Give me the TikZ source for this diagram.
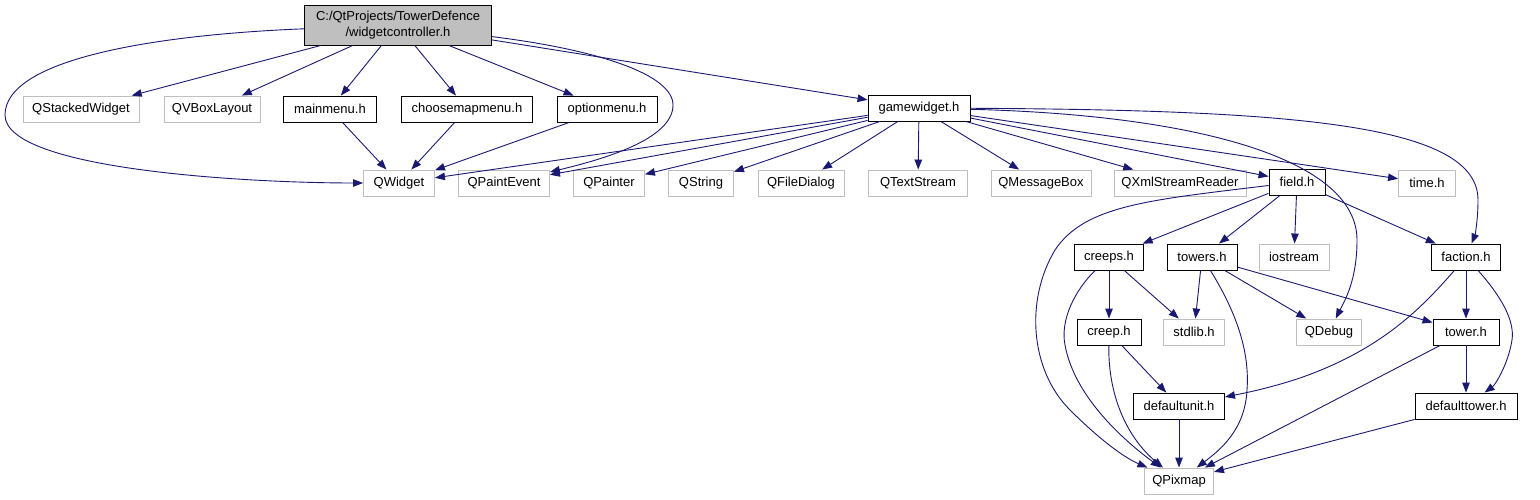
\documentclass[tikz,border=0pt]{standalone}
\usepackage{fontspec}
\setmainfont{Liberation Sans}
\usetikzlibrary{arrows.meta}
\definecolor{edgec}{HTML}{191970}
\definecolor{grayb}{HTML}{BFBFBF}
\begin{document}
\begin{tikzpicture}[x=1pt,y=-1pt,
  every node/.style={font=\fontsize{13}{16}\selectfont, inner sep=0pt, minimum height=26pt, align=center},
  blk/.style={draw=black, line width=0.9pt, fill=white},
  gry/.style={draw=grayb, line width=0.9pt, fill=white},
  dep/.style={draw=edgec, line width=0.9pt, -{Triangle[length=10pt,width=7.5pt]}}]
\useasboundingbox (0,0) rectangle (1540,500);
% nodes
\node[draw=black, line width=0.9pt, fill=grayb, minimum width=187pt, minimum height=40pt] (root) at (398,25) {C:/QtProjects/TowerDefence\\/widgetcontroller.h};
\node[gry, minimum width=116pt] (qsw) at (81,109) {QStackedWidget};
\node[gry, minimum width=96pt] (qvb) at (212,109) {QVBoxLayout};
\node[blk, minimum width=93pt] (mm) at (330,109) {mainmenu.h};
\node[blk, minimum width=131pt] (cm) at (467,109) {choosemapmenu.h};
\node[blk, minimum width=100pt] (om) at (607,109) {optionmenu.h};
\node[blk, minimum width=102pt] (gw) at (919,108) {gamewidget.h};
\node[gry, minimum width=71pt] (qw) at (399,183) {QWidget};
\node[gry, minimum width=91pt] (qpe) at (504,183) {QPaintEvent};
\node[gry, minimum width=71pt] (qp) at (609,183) {QPainter};
\node[gry, minimum width=65pt] (qs) at (701,183) {QString};
\node[gry, minimum width=86pt] (qfd) at (801,183) {QFileDialog};
\node[gry, minimum width=99pt] (qts) at (918,183) {QTextStream};
\node[gry, minimum width=100pt] (qmb) at (1041,183) {QMessageBox};
\node[gry, minimum width=132pt] (qxml) at (1180,183) {QXmlStreamReader};
\node[blk, minimum width=56pt] (fld) at (1297,182) {field.h};
\node[gry, minimum width=57pt] (tm) at (1427,183) {time.h};
\node[blk, minimum width=69pt] (crs) at (1109,257) {creeps.h};
\node[blk, minimum width=70pt] (tws) at (1202,257) {towers.h};
\node[gry, minimum width=70pt] (ios) at (1294,257) {iostream};
\node[blk, minimum width=69pt] (fac) at (1466,257) {faction.h};
\node[blk, minimum width=64pt] (cr) at (1109,332) {creep.h};
\node[gry, minimum width=61pt] (sl) at (1194,332) {stdlib.h};
\node[gry, minimum width=65pt] (qd) at (1329,332) {QDebug};
\node[blk, minimum width=66pt] (tw) at (1466,332) {tower.h};
\node[blk, minimum width=91pt] (du) at (1179,406) {defaultunit.h};
\node[blk, minimum width=102pt] (dt) at (1466,406) {defaulttower.h};
\node[gry, minimum width=69pt] (qpx) at (1179,481) {QPixmap};
% edges from root
\draw[dep] (root) .. controls (150,35) and (5,60) .. (5,115) .. controls (5,170) and (250,183) .. (qw);
\draw[dep] (root) -- (qsw);
\draw[dep] (root) -- (qvb);
\draw[dep] (root) -- (mm);
\draw[dep] (root) -- (cm);
\draw[dep] (root) -- (om);
\draw[dep] (root) .. controls (600,50) and (673,75) .. (673,105) .. controls (673,140) and (600,160) .. (qpe);
\draw[dep] (root) -- (gw);
% menus
\draw[dep] (mm) -- (qw);
\draw[dep] (cm) -- (qw);
\draw[dep] (om) -- (qw);
% gamewidget
\draw[dep] (gw) -- (qw);
\draw[dep] (gw) -- (qpe);
\draw[dep] (gw) -- (qp);
\draw[dep] (gw) -- (qs);
\draw[dep] (gw) -- (qfd);
\draw[dep] (gw) -- (qts);
\draw[dep] (gw) -- (qmb);
\draw[dep] (gw) -- (qxml);
\draw[dep] (gw) -- (fld);
\draw[dep] (gw) -- (tm);
\draw[dep] (gw) .. controls (1200,115) and (1357,160) .. (1357,240) .. controls (1357,280) and (1345,300) .. (qd);
\draw[dep] (gw) .. controls (1300,110) and (1478,125) .. (1478,200) .. controls (1478,220) and (1475,235) .. (fac);
% field
\draw[dep] (fld) .. controls (1150,200) and (1085,205) .. (1055,250) .. controls (1025,300) and (1030,370) .. (1070,410) .. controls (1100,440) and (1125,458) .. (qpx);
\draw[dep] (fld) -- (crs);
\draw[dep] (fld) -- (tws);
\draw[dep] (fld) -- (ios);
\draw[dep] (fld) -- (fac);
% creeps
\draw[dep] (crs) .. controls (1075,290) and (1060,320) .. (1065,345) .. controls (1075,400) and (1130,445) .. (qpx);
\draw[dep] (crs) -- (cr);
\draw[dep] (crs) -- (sl);
% towers
\draw[dep] (tws) -- (sl);
\draw[dep] (tws) .. controls (1235,310) and (1250,350) .. (1247,390) .. controls (1245,430) and (1220,450) .. (qpx);
\draw[dep] (tws) -- (qd);
\draw[dep] (tws) -- (tw);
% faction
\draw[dep] (fac) .. controls (1420,310) and (1380,350) .. (1300,378) .. controls (1270,388) and (1245,393) .. (du);
\draw[dep] (fac) -- (tw);
\draw[dep] (fac) .. controls (1500,295) and (1515,320) .. (1512,340) .. controls (1508,365) and (1495,385) .. (dt);
% lower
\draw[dep] (cr) -- (du);
\draw[dep] (cr) .. controls (1108,400) and (1130,440) .. (qpx);
\draw[dep] (tw) -- (qpx);
\draw[dep] (tw) -- (dt);
\draw[dep] (du) -- (qpx);
\draw[dep] (dt) -- (qpx);
\end{tikzpicture}
\end{document}
